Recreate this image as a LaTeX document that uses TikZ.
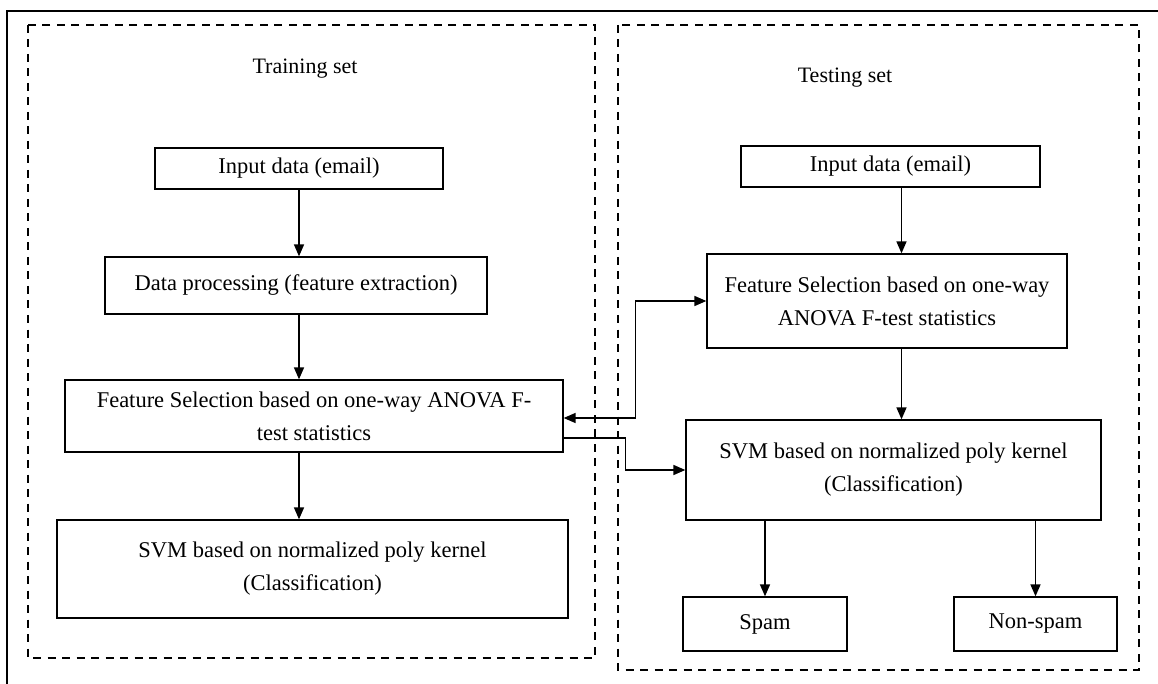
\documentclass[tikz,border=0pt]{standalone}
\usepackage{fontspec}
\setmainfont{Liberation Serif}
\usetikzlibrary{arrows.meta}

\begin{document}
\begin{tikzpicture}[x=1pt, y=-1pt,
    main/.style = {draw, line width=1.3pt, align=center, inner sep=0pt,
                   font=\fontsize{22.5}{33}\selectfont},
    dashbox/.style = {draw, line width=2pt, dash pattern=on 8pt off 6.5pt},
    arr/.style = {line width=1.6pt, -{Triangle[length=12pt, width=10pt]}},
    arrs/.style = {line width=1.6pt, {Triangle[length=12pt, width=10pt]}-{Triangle[length=12pt, width=10pt]}}]
                \useasboundingbox (0,0) rectangle (1158,684);
                \draw[line width=1.8pt] (1158,11) -- (7,11) -- (7,684);

                \draw[dashbox] (28,25) rectangle (595,658);
                \draw[dashbox] (618,25) rectangle (1139,670);
                \node[font=\fontsize{22}{26}\selectfont] at (305, 69) (train) {Training set};
                \node[font=\fontsize{22}{26}\selectfont] at (845, 78) (test) {Testing set};

                % training side
                \node[main, minimum width=288, minimum height=41] at (299, 168.5) (inL) {Input data (email)};
                \node[main, minimum width=382, minimum height=57] at (296, 285.5) (dpL) {Data processing (feature extraction)};
                \node[main, minimum width=498, minimum height=72] at (314, 416) (fsL) {Feature Selection based on one-way ANOVA F-\\test statistics};
                \node[main, minimum width=511, minimum height=98] at (312.5, 569) (svmL) {SVM based on normalized poly kernel\\(Classification)};

                % testing side
                \node[main, minimum width=299, minimum height=41] at (890.5, 166.5) (inR) {Input data (email)};
                \node[main, minimum width=360, minimum height=94] at (887, 301) (fsR) {Feature Selection based on one-way\\ANOVA F-test statistics};
                \node[main, minimum width=415, minimum height=100] at (893.5, 470) (svmR) {SVM based on normalized poly kernel\\(Classification)};
                \node[main, minimum width=164, minimum height=54] at (765, 624) (spam) {Spam};
                \node[main, minimum width=163, minimum height=54] at (1035.5, 624) (nonspam) {Non-spam};

                \draw[arr] (inL.south) -- (inL.south |- dpL.north);
                \draw[arr] (inL.south |- dpL.south) -- (inL.south |- fsL.north);
                \draw[arr] (inL.south |- fsL.south) -- (inL.south |- svmL.north);

                \draw[arr] ([xshift=11]inR.south) -- ([xshift=11]inR.south |- fsR.north);
                \draw[arr] ([xshift=11]inR.south |- fsR.south) -- ([xshift=11]inR.south |- svmR.north);
                \draw[arr] (spam.north |- svmR.south) -- (spam.north);
                \draw[arr] (nonspam.north |- svmR.south) -- (nonspam.north);

                \draw[arrs] ([yshift=-2]fsL.east) -- ++(72,0) |- (fsR.west);
                \draw[arr] ([yshift=-22]fsL.east) -- ++(62,0) |- (svmR.west);
            \end{tikzpicture}
\end{document}
